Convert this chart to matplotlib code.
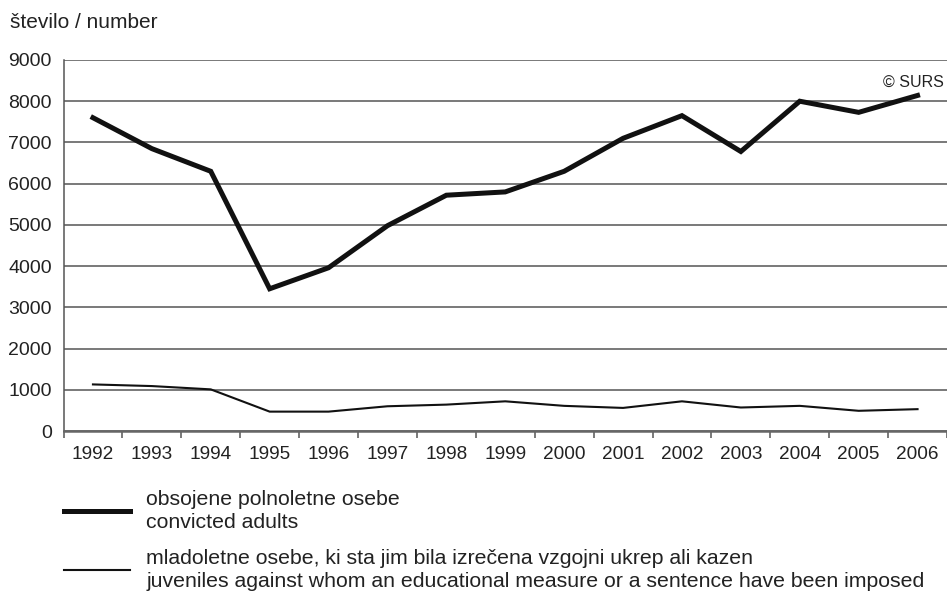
import matplotlib
matplotlib.use('Agg')
import matplotlib.pyplot as plt
import numpy as np

plt.rcParams['font.family'] = ['Liberation Sans', 'DejaVu Sans']

# years on the category axis
years = ['1992', '1993', '1994', '1995', '1996', '1997', '1998', '1999',
         '2000', '2001', '2002', '2003', '2004', '2005', '2006']
# convicted adults
adults = [7600, 6850, 6300, 3450, 3960, 4980, 5720, 5800,
          6300, 7100, 7650, 6780, 8000, 7730, 8140]
# juveniles with educational measure or sentence
juveniles = [1130, 1090, 1010, 470, 470, 600, 640, 720,
             610, 560, 720, 570, 610, 490, 530]

label_adults = 'obsojene polnoletne osebe\nconvicted adults'
label_juv = ('mladoletne osebe, ki sta jim bila izrečena vzgojni ukrep ali kazen\n'
             'juveniles against whom an educational measure or a sentence have been imposed')

W, H = 947, 592
fig = plt.figure(figsize=(W / 100, H / 100), dpi=100)
ax = fig.add_axes([63.5 / W, 1 - 431 / H, (W - 63.5) / W, (431 - 60) / H])

x = np.arange(len(years))
l1, = ax.plot(x, adults, color='#111111', lw=3.6, solid_joinstyle='miter')
l2, = ax.plot(x, juveniles, color='#111111', lw=1.5)

ax.set_xlim(-0.5, len(years) - 0.5)
ax.set_ylim(0, 9000)
ax.set_yticks(np.arange(0, 9001, 1000))
ax.yaxis.grid(True, color='#555555', lw=1.1)
ax.set_axisbelow(True)

ax.set_xticks(x)
ax.set_xticklabels(years, fontsize=13.7, color='#222222')
ax.set_xticks(np.arange(-0.5, len(years), 1), minor=True)
ax.tick_params(axis='x', which='major', length=0, pad=11)
ax.tick_params(axis='x', which='minor', length=5, width=1.1, color='#555555', direction='out')
ax.tick_params(axis='y', length=0, labelsize=14, pad=8.5, labelcolor='#222222')

for s in ['right', 'top']:
    ax.spines[s].set_visible(False)
ax.spines['left'].set_color('#555555')
ax.spines['bottom'].set_color('#666666')
ax.spines['bottom'].set_linewidth(1.8)
ax.spines['left'].set_linewidth(1.1)

fig.text(10 / W, 1 - 28 / H, 'število / number', fontsize=15, color='#222222',
         ha='left', va='baseline')
ax.text(0.997, 0.94, '© SURS', transform=ax.transAxes, fontsize=11.5,
        color='#222222', ha='right', va='center')

leg = fig.legend([l1, l2], [label_adults, label_juv], loc='upper left',
                 bbox_to_anchor=(64 / W, 1 - 490 / H), frameon=False,
                 fontsize=15.3, handlelength=3.1, handletextpad=0.78,
                 labelspacing=0.78, borderaxespad=0, borderpad=0)
for t in leg.get_texts():
    t.set_linespacing(1.28)
    t.set_color('#222222')

fig.savefig('out.png', dpi=100)
